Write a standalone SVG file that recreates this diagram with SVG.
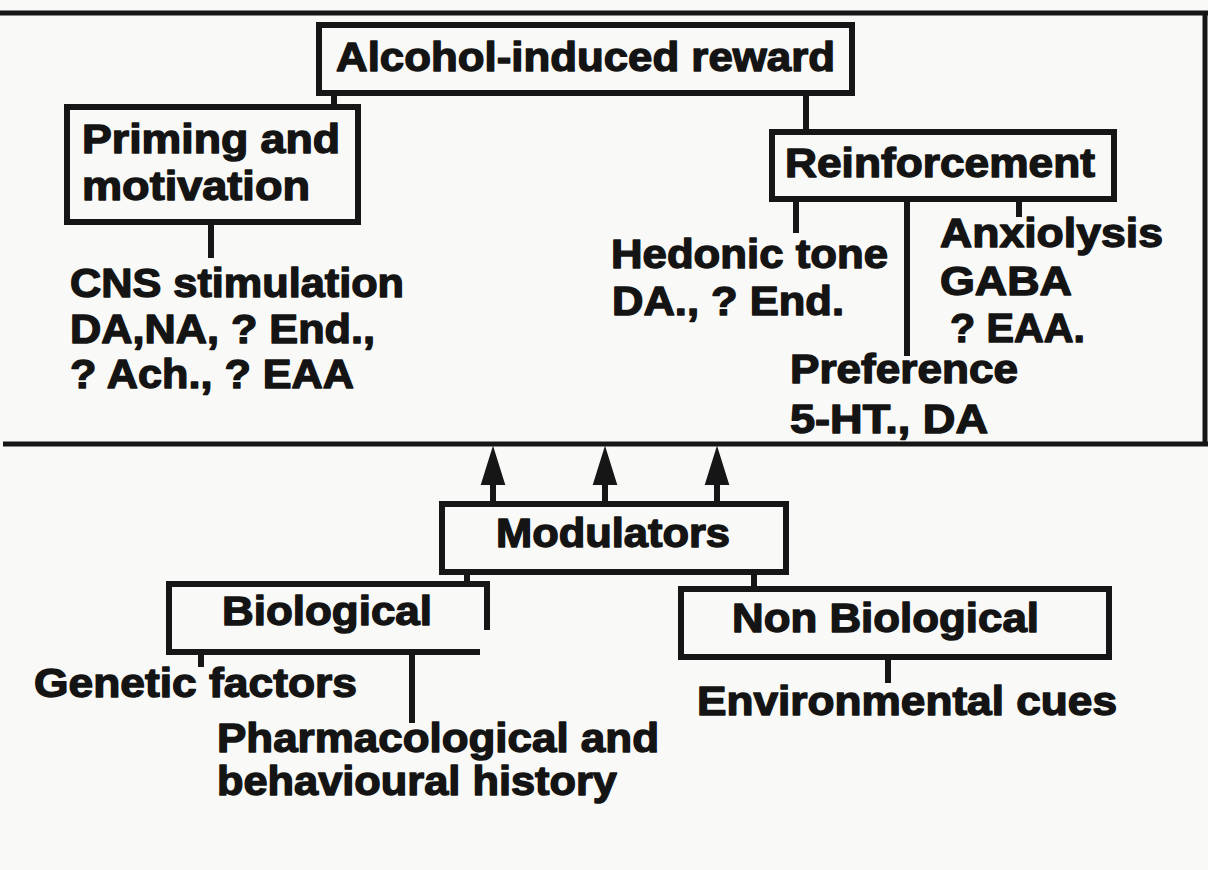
<svg xmlns="http://www.w3.org/2000/svg" width="1208" height="870" viewBox="0 0 1208 870">
<defs>
<style>
.bx{fill:none;stroke:#161616;stroke-width:6;stroke-linejoin:miter}
.ln{fill:none;stroke:#161616;stroke-width:6}
.fr{fill:none;stroke:#161616;stroke-width:5}
.t{font-family:"Liberation Sans",Arial,Helvetica,sans-serif;font-weight:bold;font-size:41px;fill:#141414;stroke:#141414;stroke-width:1.4;stroke-linejoin:round}
</style>
<marker id="ah" markerUnits="userSpaceOnUse" markerWidth="40" markerHeight="26" viewBox="0 0 37 23" refX="5" refY="11.5" orient="auto">
<path d="M0,0 L37,11.5 L0,23 z" fill="#161616"/>
</marker>
</defs>
<rect x="0" y="0" width="1208" height="870" fill="#f9f9f7"/>
<g id="frame">
<line class="fr" x1="0" y1="13" x2="1208" y2="13"/>
<line class="fr" x1="3" y1="444" x2="1208" y2="444"/>
<line class="fr" x1="1205" y1="13" x2="1205" y2="444"/>
</g>
<g id="connectors">
<line class="ln" x1="334" y1="96" x2="334" y2="106"/>
<line class="ln" x1="806" y1="96" x2="806" y2="131"/>
<line class="ln" x1="211" y1="225" x2="211" y2="258"/>
<line class="ln" x1="796" y1="202" x2="796" y2="233"/>
<line class="ln" x1="907" y1="202" x2="907" y2="356"/>
<line class="ln" x1="1019" y1="202" x2="1019" y2="217"/>
<line class="ln" x1="467" y1="575" x2="467" y2="584"/>
<line class="ln" x1="754" y1="575" x2="754" y2="589"/>
<line class="ln" x1="201" y1="655" x2="201" y2="667"/>
<line class="ln" x1="412" y1="655" x2="412" y2="723"/>
<line class="ln" x1="888" y1="660" x2="888" y2="683"/>
<line class="ln" x1="493" y1="504" x2="493" y2="480" stroke-width="7" marker-end="url(#ah)"/>
<line class="ln" x1="605" y1="504" x2="605" y2="480" stroke-width="7" marker-end="url(#ah)"/>
<line class="ln" x1="717" y1="504" x2="717" y2="480" stroke-width="7" marker-end="url(#ah)"/>
</g>
<g id="alcohol-reward">
<rect class="bx" x="319" y="25" width="533" height="68"/>
<text class="t" x="336" y="71" textLength="499" lengthAdjust="spacingAndGlyphs">Alcohol-induced reward</text>
</g>
<g id="priming">
<rect class="bx" x="67" y="107" width="291" height="115"/>
<text class="t" x="82" y="153" textLength="258" lengthAdjust="spacingAndGlyphs">Priming and</text>
<text class="t" x="82" y="200" textLength="228" lengthAdjust="spacingAndGlyphs">motivation</text>
</g>
<g id="cns">
<text class="t" x="70" y="297" textLength="334" lengthAdjust="spacingAndGlyphs">CNS stimulation</text>
<text class="t" x="70" y="343" textLength="305" lengthAdjust="spacingAndGlyphs">DA,NA, ? End.,</text>
<text class="t" x="70" y="388" textLength="284" lengthAdjust="spacingAndGlyphs">? Ach., ? EAA</text>
</g>
<g id="reinforcement">
<rect class="bx" x="772" y="132" width="342" height="67"/>
<text class="t" x="785" y="177" textLength="310" lengthAdjust="spacingAndGlyphs">Reinforcement</text>
</g>
<g id="hedonic">
<text class="t" x="611" y="268" textLength="277" lengthAdjust="spacingAndGlyphs">Hedonic tone</text>
<text class="t" x="612" y="315" textLength="232" lengthAdjust="spacingAndGlyphs">DA., ? End.</text>
</g>
<g id="anxiolysis">
<text class="t" x="940" y="247" textLength="223" lengthAdjust="spacingAndGlyphs">Anxiolysis</text>
<text class="t" x="940" y="295" textLength="132" lengthAdjust="spacingAndGlyphs">GABA</text>
<text class="t" x="950" y="342" textLength="135" lengthAdjust="spacingAndGlyphs">? EAA.</text>
</g>
<g id="preference">
<text class="t" x="790" y="383" textLength="228" lengthAdjust="spacingAndGlyphs">Preference</text>
<text class="t" x="790" y="433" textLength="198" lengthAdjust="spacingAndGlyphs">5-HT., DA</text>
</g>
<g id="modulators">
<rect class="bx" x="442" y="504" width="344" height="68"/>
<text class="t" x="496" y="547" textLength="234" lengthAdjust="spacingAndGlyphs">Modulators</text>
</g>
<g id="biological">
<path class="bx" d="M480,652 L169,652 L169,584 L487,584 L487,630"/>
<text class="t" x="222" y="625" textLength="210" lengthAdjust="spacingAndGlyphs">Biological</text>
</g>
<g id="non-biological">
<rect class="bx" x="681" y="589" width="428" height="68"/>
<text class="t" x="732" y="632" textLength="307" lengthAdjust="spacingAndGlyphs">Non Biological</text>
</g>
<g id="genetic">
<text class="t" x="34" y="697" textLength="323" lengthAdjust="spacingAndGlyphs">Genetic factors</text>
</g>
<g id="pharmacological">
<text class="t" x="217" y="752" textLength="442" lengthAdjust="spacingAndGlyphs">Pharmacological and</text>
<text class="t" x="217" y="795" textLength="400" lengthAdjust="spacingAndGlyphs">behavioural history</text>
</g>
<g id="environmental">
<text class="t" x="697" y="715" textLength="420" lengthAdjust="spacingAndGlyphs">Environmental cues</text>
</g>
</svg>
